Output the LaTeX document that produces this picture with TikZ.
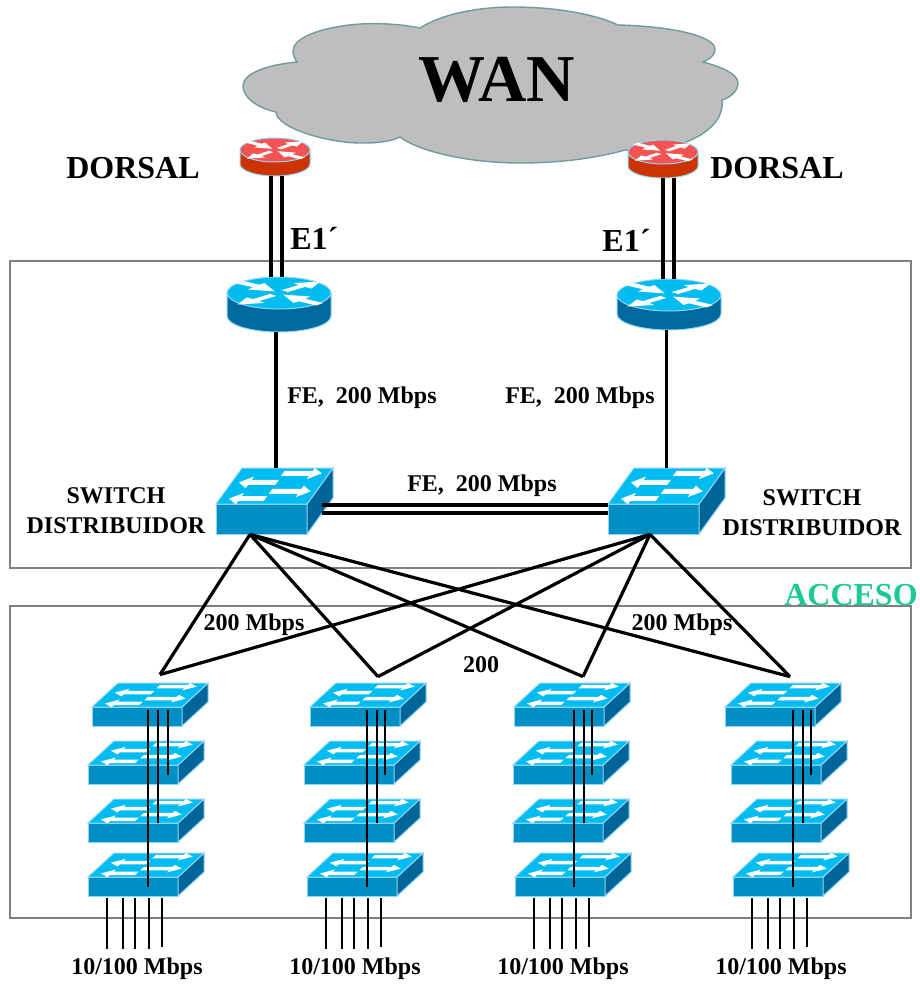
\documentclass[tikz,border=0pt]{standalone}
\usepackage{fontspec}
\setmainfont{Liberation Serif}
\definecolor{swtop}{HTML}{00BCF0}
\definecolor{swfront}{HTML}{008FC4}
\definecolor{swside}{HTML}{006699}
\definecolor{swedge}{HTML}{8FD6F7}
\definecolor{rtdark}{HTML}{006A9E}
\definecolor{rdtop}{HTML}{F45353}
\definecolor{rddark}{HTML}{CC3300}
\definecolor{cloudfill}{HTML}{BEBEBE}
\definecolor{cloudline}{HTML}{6E9C9C}
\definecolor{framegray}{HTML}{808080}
\definecolor{accesogreen}{HTML}{1EC896}
\tikzset{
lbl/.style={inner sep=0pt,font=\bfseries\fontsize{12}{15}\selectfont,align=center},
felbl/.style={lbl,font=\bfseries\fontsize{12}{14}\selectfont},
biglbl/.style={lbl,font=\bfseries\fontsize{16}{18}\selectfont},
iconedge/.style={draw=swedge,line width=.5pt},
accessbox/.style={inner sep=0pt,minimum width=58pt,minimum height=21.5pt},
corebox/.style={inner sep=0pt,minimum width=58.5pt,minimum height=33pt},
framebox/.style={draw=framegray,line width=.7pt},
biglink/.style={line width=1.6pt},
stacklink/.style={line width=.9pt}
}
\newcommand{\switchicon}[6]{
\draw[iconedge,fill=swfront] (#1,#2) rectangle ++(#3,#5);
\draw[iconedge,fill=swside] (#1+#3,#2) -- ++(#6,-#4) -- ++(0,#5) -- ++(-#6,#4) -- cycle;
\begin{scope}[shift={(#1,#2)},y={(#6,-#4)},x={(#3,0)}]
\draw[iconedge,fill=swtop] (0,0) -- (1,0) -- (1,1) -- (0,1) -- cycle;
\fill[white] (.5,.08) -- (.22,.08) -- (.22,-.01) -- (.1,.15) -- (.22,.31) -- (.22,.22) -- (.5,.22) -- cycle;
\fill[white] (.5,.53) -- (.20,.53) -- (.20,.44) -- (.08,.60) -- (.20,.76) -- (.20,.67) -- (.5,.67) -- cycle;
\fill[white] (.5,.28) -- (.82,.28) -- (.82,.19) -- (.94,.35) -- (.82,.51) -- (.82,.42) -- (.5,.42) -- cycle;
\fill[white] (.49,.78) -- (.80,.78) -- (.80,.69) -- (.92,.85) -- (.80,1) -- (.80,.92) -- (.49,.92) -- cycle;
\end{scope}
}
\newcommand{\smallswitch}[3]{
\switchicon{#2}{#3}{90}{24}{19}{26}
\node[accessbox] (#1) at (#2+58,#3-2.5) {};
}
\newcommand{\coreswitch}[3]{
\switchicon{#2}{#3}{91}{36}{30}{26}
\node[corebox] (#1) at (#2+58.5,#3-3) {};
}
\newcommand{\routericon}[8]{
\draw[draw=swedge,line width=.5pt,fill=#7] (#2-#4,#3) -- ++(0,#6) arc (180:0:#4 and #5) -- ++(0,-#6) -- cycle;
\begin{scope}[shift={(#2,#3)},y={(0,-#5)},x={(#4,0)}]
\draw[draw=swedge,line width=.5pt,fill=#8] (0,0) ellipse (1 and 1);
\fill[white] (.05,.18) -- (.38,.5) -- (.28,.62) -- (.8,.72) -- (.62,.28) -- (.5,.38) -- (.17,.06) -- cycle;
\fill[white] (-.05,-.18) -- (-.38,-.5) -- (-.28,-.62) -- (-.8,-.72) -- (-.62,-.28) -- (-.5,-.38) -- (-.17,-.06) -- cycle;
\fill[white] (-.72,.78) -- (-.85,.62) -- (-.5,.36) -- (-.6,.22) -- (-.08,.1) -- (-.28,.62) -- (-.38,.52) -- cycle;
\fill[white] (.72,-.78) -- (.85,-.62) -- (.5,-.36) -- (.6,-.22) -- (.08,-.1) -- (.28,-.62) -- (.38,-.52) -- cycle;
\end{scope}
\node[inner sep=0pt,minimum width=#4*1pt,minimum height=#5*1pt+#6*.5pt] (#1) at (#2,#3+#6/2) {};
}
\newcommand{\portlines}[1]{
\path[stacklink]
([shift={(-39,2)}]#1.south) edge ([shift={(-39,53)}]#1.south)
([shift={(-23,2)}]#1.south) edge ([shift={(-23,53)}]#1.south)
([shift={(-11,2)}]#1.south) edge ([shift={(-11,53)}]#1.south)
([shift={(3,2)}]#1.south) edge ([shift={(3,53)}]#1.south)
([shift={(16,2)}]#1.south) edge ([shift={(16,51)}]#1.south);
}
\begin{document}
\begin{tikzpicture}[x=.5pt,y=-.5pt]
\useasboundingbox (0,0) rectangle (920,986);
% cloud
\draw[fill=cloudfill,draw=cloudline,line width=.7pt] (297,62)
.. controls (265,65) and (243,74) .. (243,86)
.. controls (243,98) and (258,108) .. (276,112)
.. controls (276,128) and (330,144) .. (365,143)
.. controls (380,143) and (392,141) .. (400,137)
.. controls (420,152) and (470,163) .. (520,163)
.. controls (565,163) and (600,157) .. (625,150)
.. controls (680,154) and (726,130) .. (722,100)
.. controls (732,97) and (738,90) .. (738,83)
.. controls (738,74) and (722,67) .. (703,62)
.. controls (712,58) and (715,54) .. (715,49)
.. controls (715,36) and (670,26) .. (618,25)
.. controls (595,14) and (555,7) .. (513,7)
.. controls (475,7) and (440,15) .. (420,28)
.. controls (400,24) and (380,23) .. (360,24)
.. controls (320,27) and (293,38) .. (293,51)
.. controls (293,55) and (295,59) .. (297,62) -- cycle;
\node[lbl,font=\bfseries\fontsize{33.5}{36}\selectfont] (wan) at (497,80) {WAN};
% frames
\draw[framebox] (10,261) rectangle (911,568);
\draw[framebox] (10,606) rectangle (911,918);
% routers
\routericon{dorsalL}{275}{150}{35}{12}{14}{rddark}{rdtop}
\routericon{dorsalR}{663}{152}{35}{12}{14}{rddark}{rdtop}
\routericon{routerL}{279}{293}{52}{16}{23}{rtdark}{swtop}
\routericon{routerR}{669}{295}{52}{16}{19}{rtdark}{swtop}
% distribution
\coreswitch{coreL}{216}{504}
\coreswitch{coreR}{608}{504}
% access
\smallswitch{a11}{92}{707}
\smallswitch{a12}{88}{765}
\smallswitch{a13}{88}{823}
\smallswitch{a14}{88}{877}
\smallswitch{a21}{310}{707}
\smallswitch{a22}{304}{765}
\smallswitch{a23}{304}{823}
\smallswitch{a24}{307}{877}
\smallswitch{a31}{514}{707}
\smallswitch{a32}{513}{765}
\smallswitch{a33}{513}{823}
\smallswitch{a34}{515}{877}
\smallswitch{a41}{725}{707}
\smallswitch{a42}{731}{765}
\smallswitch{a43}{731}{823}
\smallswitch{a44}{733}{877}
% links
\path[biglink]
([xshift=-2pt]dorsalL.south) edge ([xshift=-4pt]routerL.north)
([xshift=3.5pt]dorsalL.south) edge ([xshift=1.5pt]routerL.north)
([xshift=0pt]dorsalR.south) edge ([xshift=-3pt]routerR.north)
([xshift=5.5pt]dorsalR.south) edge ([xshift=2.5pt]routerR.north)
([xshift=-1.5pt]routerL.south) edge ([xshift=.75pt]coreL.north)
([xshift=-1.25pt]routerR.south) edge (coreR.north)
([shift={(-11,4)}]coreL.east) edge ([shift={(0,4)}]coreR.west)
([shift={(-11,12)}]coreL.east) edge ([shift={(0,12)}]coreR.west);
\path[biglink]
([shift={(-24.5,0)}]coreL.south) edge ([shift={(10,-8)}]a11.north)
([shift={(-24.5,0)}]coreL.south) edge ([shift={(10,-6)}]a21.north)
([shift={(-24.5,0)}]coreL.south) edge ([shift={(11,-6)}]a31.north)
([shift={(-24.5,0)}]coreL.south) edge ([shift={(7,-6)}]a41.north)
([shift={(-16.5,0)}]coreR.south) edge ([shift={(10,-8)}]a11.north)
([shift={(-16.5,0)}]coreR.south) edge ([shift={(10,-6)}]a21.north)
([shift={(-16.5,0)}]coreR.south) edge ([shift={(11,-6)}]a31.north)
([shift={(-16.5,0)}]coreR.south) edge ([shift={(7,-6)}]a41.north);
\path[stacklink]
([shift={(-2,-16)}]a11.south) edge ([shift={(2,-9)}]a14.south)
([shift={(8,-16)}]a11.south) edge ([shift={(12,-19)}]a13.south)
([shift={(18,-16)}]a11.south) edge ([shift={(22,-9)}]a12.south)
([shift={(-1,-16)}]a21.south) edge ([shift={(2,-9)}]a24.south)
([shift={(9,-16)}]a21.south) edge ([shift={(15,-19)}]a23.south)
([shift={(17,-16)}]a21.south) edge ([shift={(23,-9)}]a22.south)
([shift={(2,-16)}]a31.south) edge ([shift={(1,-9)}]a34.south)
([shift={(12,-16)}]a31.south) edge ([shift={(13,-19)}]a33.south)
([shift={(20,-16)}]a31.south) edge ([shift={(21,-9)}]a32.south)
([shift={(10,-16)}]a41.south) edge ([shift={(2,-9)}]a44.south)
([shift={(20,-16)}]a41.south) edge ([shift={(14,-19)}]a43.south)
([shift={(28,-16)}]a41.south) edge ([shift={(22,-9)}]a42.south);
\portlines{a14}
\portlines{a24}
\portlines{a34}
\portlines{a44}
% labels
\node[biglbl] (dorsalTextL) at (133,168) {DORSAL};
\node[biglbl] (dorsalTextR) at (777,168) {DORSAL};
\node[biglbl,anchor=west] (e1L) at (290,238) {E1´};
\node[biglbl,anchor=west] (e1R) at (602,240) {E1´};
\node[felbl] (feL) at (362,398) {FE,\ \ 200 Mbps};
\node[felbl] (feR) at (580,398) {FE,\ \ 200 Mbps};
\node[felbl] (feC) at (482,486) {FE,\ \ 200 Mbps};
\node[lbl] (distL) at (116,511) {SWITCH\\DISTRIBUIDOR};
\node[lbl] (distR) at (812,513) {SWITCH\\DISTRIBUIDOR};
\node[biglbl,text=accesogreen] (acceso) at (851,595) {ACCESO};
\node[lbl] (mbpsL) at (254,625) {200 Mbps};
\node[lbl] (mbpsR) at (682,625) {200 Mbps};
\node[lbl] (mbpsC) at (481,665) {200};
\node[lbl] (ports1) at (137,969) {10/100 Mbps};
\node[lbl] (ports2) at (355,969) {10/100 Mbps};
\node[lbl] (ports3) at (563,969) {10/100 Mbps};
\node[lbl] (ports4) at (781,969) {10/100 Mbps};
\end{tikzpicture}
\end{document}
